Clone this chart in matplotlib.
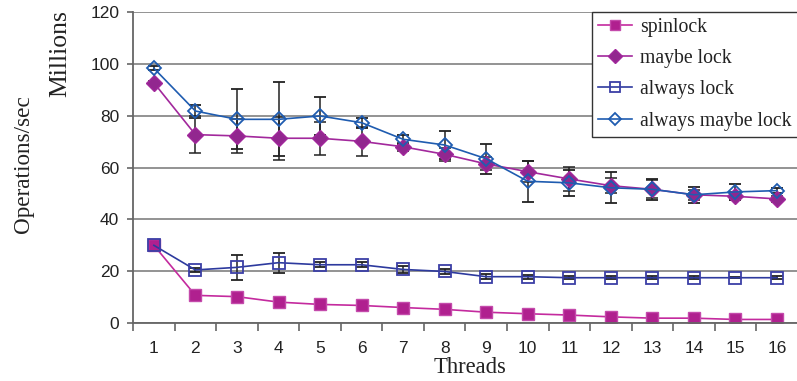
import matplotlib
matplotlib.use("Agg")
import matplotlib.pyplot as plt
from matplotlib.lines import Line2D
import numpy as np

# Threads on the x axis
threads = list(range(1, 17))

# Millions of operations/sec
spinlock = [30.0, 10.7, 10.2, 8.1, 7.2, 6.8, 6.0, 5.3, 4.2, 3.6, 3.1, 2.4, 1.9, 1.9, 1.4, 1.4]
spinlock_err = [0.5, 0.8, 0.6, 1.5, 0.6, 0.5, 0.4, 0.4, 0.3, 0.3, 0.3, 0.3, 0.2, 0.2, 0.2, 0.2]

maybe_lock = [92.7, 72.7, 72.2, 71.3, 71.3, 70.1, 68.0, 65.1, 61.4, 58.4, 55.6, 53.0, 51.6, 49.5, 48.9, 47.9]
maybe_lock_err = [0.8, 7.2, 6.7, 8.3, 6.4, 5.5, 1.5, 2.6, 2.5, 4.0, 4.7, 3.0, 3.5, 2.0, 1.5, 1.0]

always_lock = [30.0, 20.5, 21.5, 23.3, 22.5, 22.5, 20.7, 19.9, 17.9, 17.9, 17.5, 17.5, 17.5, 17.5, 17.5, 17.5]
always_lock_err = [0.5, 0.8, 4.8, 3.8, 1.0, 1.0, 1.2, 1.0, 1.0, 0.8, 0.5, 0.5, 0.5, 0.5, 0.3, 0.5]

always_maybe = [98.3, 81.8, 78.6, 78.6, 79.9, 77.3, 70.9, 68.7, 63.4, 54.7, 54.1, 52.2, 51.6, 49.5, 50.6, 51.1]
always_maybe_err = [0.8, 2.5, 11.6, 14.3, 7.2, 2.0, 1.8, 5.5, 5.7, 8.0, 5.0, 6.0, 4.0, 3.0, 3.0, 1.0]

labels = ['spinlock', 'maybe lock', 'always lock', 'always maybe lock']

fig = plt.figure(figsize=(7.97, 3.81), dpi=100)
ax = fig.add_axes([0.167, 0.152, 0.834, 0.8165])

x = np.array(threads)

ax.set_axisbelow(True)
ax.yaxis.grid(True, color='#8a8a8a', linewidth=1.3)

err_kw = dict(ecolor='#222222', elinewidth=1.1, capsize=4, capthick=1.1)

# marker styles, reused for the legend proxies
styles = [
    dict(color='#c42a9e', marker='s', markersize=8.5, markerfacecolor='#b0208f', markeredgecolor='#c44aab', linewidth=1.2),
    dict(color='#a2289c', marker='D', markersize=8.3, markerfacecolor='#92278f', markeredgecolor='#a2289c', linewidth=1.2),
    dict(color='#2d3a9e', marker='s', markersize=9, markerfacecolor='none', markeredgecolor='#3b3fa6',
         markeredgewidth=1.3, linewidth=1.2),
    dict(color='#1f5cb0', marker='D', markersize=7.2, markerfacecolor='none', markeredgecolor='#1f5cb0',
         markeredgewidth=1.3, linewidth=1.2),
]

series = [(spinlock, spinlock_err), (maybe_lock, maybe_lock_err),
          (always_lock, always_lock_err), (always_maybe, always_maybe_err)]
for (vals, errs), st in zip(series, styles):
    ax.errorbar(x, vals, yerr=errs, **st, **err_kw)

# axes
ax.set_xlim(0.5, 16.5)
ax.set_ylim(0, 120)
ax.set_yticks(np.arange(0, 121, 20))
ax.set_xticks(x)
ax.set_xticks(np.arange(0.5, 17, 1), minor=True)
ax.tick_params(axis='x', which='major', length=0, pad=13, labelsize=12.5)
ax.tick_params(axis='x', which='minor', length=6, color='#666666', width=1.2, direction='out')
ax.tick_params(axis='y', length=4, color='#666666', width=1.2, labelsize=12.5, pad=6)
for lab in ax.get_xticklabels() + ax.get_yticklabels():
    lab.set_family('Liberation Sans')
    lab.set_color('#222222')

ax.spines['top'].set_visible(False)
ax.spines['right'].set_visible(False)
ax.spines['left'].set_color('#666666')
ax.spines['left'].set_linewidth(1.3)
ax.spines['bottom'].set_color('#666666')
ax.spines['bottom'].set_linewidth(1.3)

fig.text(0.59, 0.035, 'Threads', family='Liberation Serif', fontsize=16.3, ha='center', va='center',
         color='#222222')
fig.text(0.03, 0.57, 'Operations/sec', rotation=90, family='Liberation Serif', fontsize=16.7,
         ha='center', va='center', color='#222222')
fig.text(0.076, 0.86, 'Millions', rotation=90, family='Liberation Serif', fontsize=18.5,
         ha='center', va='center', color='#222222')

# legend without the error bar glyphs
proxies = []
for st in styles:
    st2 = dict(st)
    st2['markersize'] = st['markersize'] * 0.85
    proxies.append(Line2D([], [], **st2))
leg = ax.legend(proxies, labels, loc='upper right', bbox_to_anchor=(1.0, 1.0), borderaxespad=0,
                prop={'family': 'Liberation Serif', 'size': 14.2}, fancybox=False,
                framealpha=1, edgecolor='#333333', handlelength=1.75, handletextpad=0.4,
                labelspacing=0.62, borderpad=0.3)
leg.get_frame().set_linewidth(1.0)
for t in leg.get_texts():
    t.set_color('#222222')

fig.savefig('out.png', dpi=100)
